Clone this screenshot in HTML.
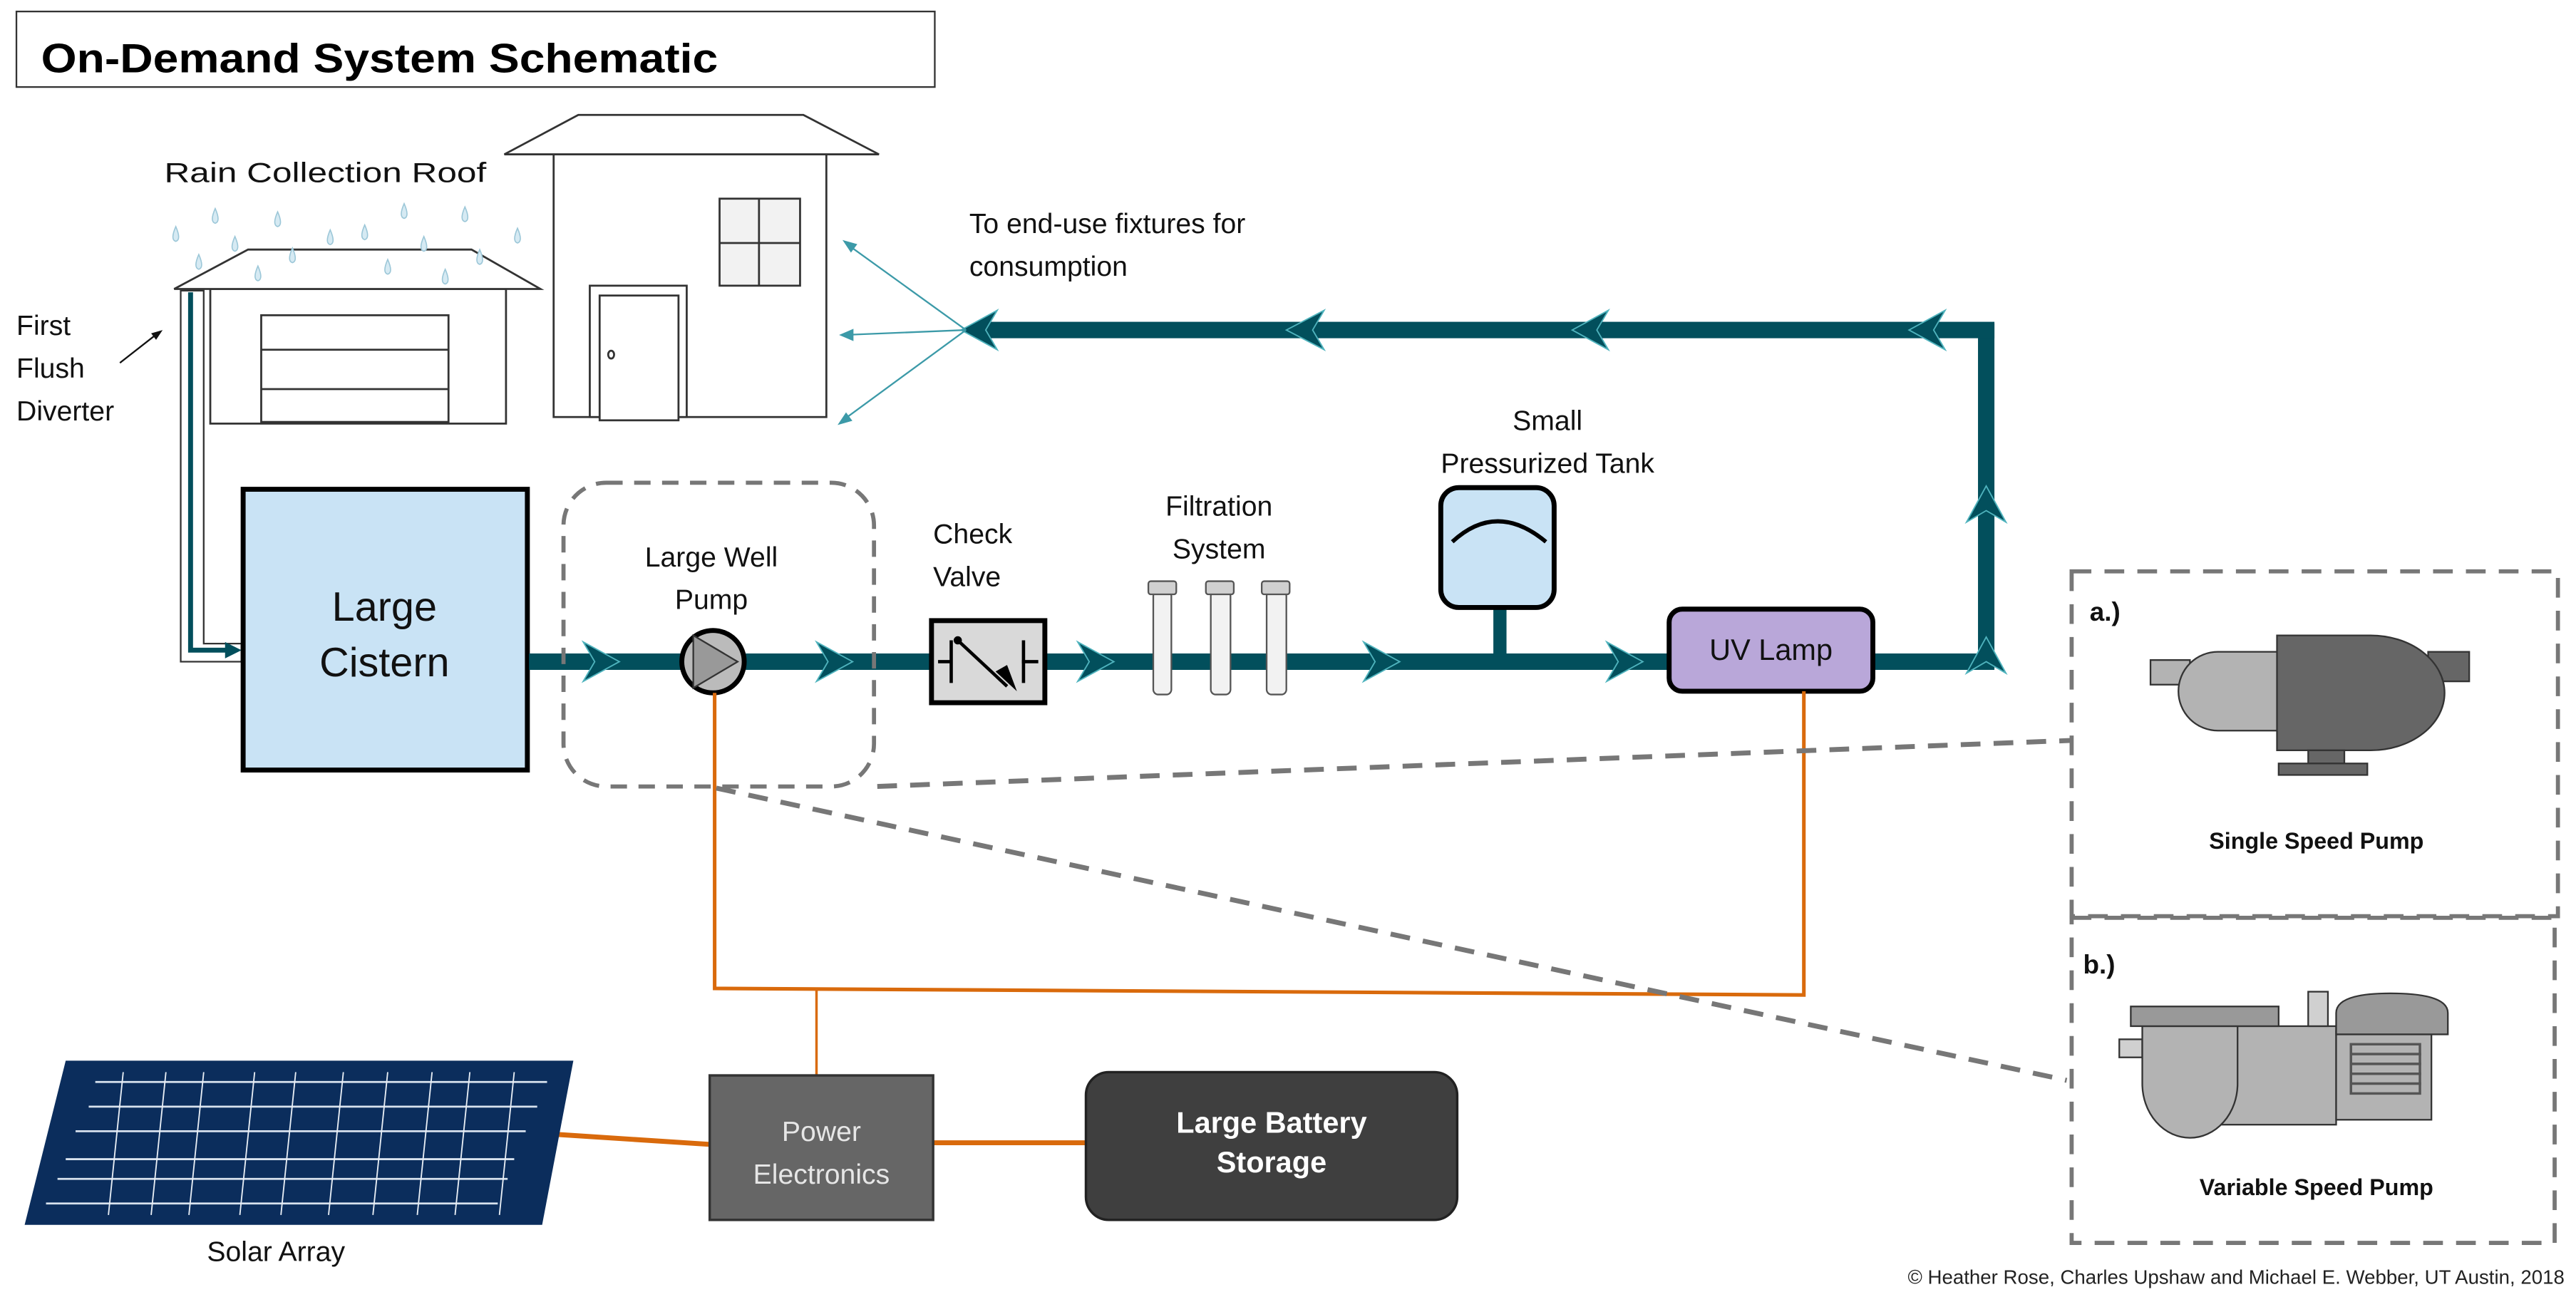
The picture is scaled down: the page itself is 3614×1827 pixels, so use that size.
<!DOCTYPE html>
<html><head><meta charset="utf-8"><style>
html,body{margin:0;padding:0;background:#fff;}
svg{display:block;}
text{font-family:"Liberation Sans",sans-serif;}
</style></head><body>
<svg width="3614" height="1827" viewBox="0 0 1568 793" preserveAspectRatio="none" xmlns="http://www.w3.org/2000/svg">
<rect x="0" y="0" width="1568" height="793" fill="#fff"/>
<rect x="10" y="7" width="559" height="46" fill="#fff" stroke="#333" stroke-width="1"/>
<text x="25" y="44" font-size="25" font-weight="bold" fill="#000" textLength="412" lengthAdjust="spacingAndGlyphs">On-Demand System Schematic</text>

<text x="100" y="111" font-size="17" fill="#111" textLength="196" lengthAdjust="spacingAndGlyphs">Rain Collection Roof</text>
<g fill="#fff" stroke="#333" stroke-width="1.2">
<rect x="128" y="176" width="180" height="82"/>
<polygon points="106,176 151,152 287,152 329,176"/>
<rect x="159" y="192" width="114" height="65"/>
<line x1="159" y1="213" x2="273" y2="213"/><line x1="159" y1="237" x2="273" y2="237"/>
</g>
<g fill="#fff" stroke="#333" stroke-width="1.2">
<rect x="337" y="94" width="166" height="160"/>
<polygon points="307,94 352,70 489,70 535,94"/>
<rect x="438" y="121" width="49" height="53" fill="#f2f2f2"/>
<line x1="462" y1="121" x2="462" y2="174"/><line x1="438" y1="148" x2="487" y2="148"/>
<rect x="359" y="174" width="59" height="80"/>
<rect x="365" y="180" width="48" height="76"/>
<ellipse cx="372" cy="216" rx="1.8" ry="2.4"/>
</g>
<g fill="#d6eaf3" stroke="#9cc7d8" stroke-width="0.7">
<path d="M107 138 q-3.5 8 0 9 q3.5 -1 0 -9z"/><path d="M131 127 q-3.5 8 0 9 q3.5 -1 0 -9z"/><path d="M169 129 q-3.5 8 0 9 q3.5 -1 0 -9z"/>
<path d="M143 144 q-3.5 8 0 9 q3.5 -1 0 -9z"/><path d="M121 155 q-3.5 8 0 9 q3.5 -1 0 -9z"/><path d="M178 151 q-3.5 8 0 9 q3.5 -1 0 -9z"/>
<path d="M157 162 q-3.5 8 0 9 q3.5 -1 0 -9z"/><path d="M201 140 q-3.5 8 0 9 q3.5 -1 0 -9z"/><path d="M222 137 q-3.5 8 0 9 q3.5 -1 0 -9z"/>
<path d="M246 124 q-3.5 8 0 9 q3.5 -1 0 -9z"/><path d="M283 126 q-3.5 8 0 9 q3.5 -1 0 -9z"/><path d="M258 144 q-3.5 8 0 9 q3.5 -1 0 -9z"/>
<path d="M236 158 q-3.5 8 0 9 q3.5 -1 0 -9z"/><path d="M271 164 q-3.5 8 0 9 q3.5 -1 0 -9z"/><path d="M292 152 q-3.5 8 0 9 q3.5 -1 0 -9z"/>
<path d="M315 139 q-3.5 8 0 9 q3.5 -1 0 -9z"/>
</g>
<text x="10" y="204" font-size="17" fill="#111">First</text>
<text x="10" y="230" font-size="17" fill="#111">Flush</text>
<text x="10" y="256" font-size="17" fill="#111">Diverter</text>
<line x1="73" y1="221" x2="96" y2="203" stroke="#111" stroke-width="1"/>
<polygon points="99,201 92,203 95,207" fill="#111"/>
<path d="M110 177 H124 V392 H147 V403 H110 Z" fill="#fff" stroke="#333" stroke-width="1"/>
<path d="M116 178 V396 H138" fill="none" stroke="#024f5c" stroke-width="3"/>
<polygon points="137,391 147,396 137,401" fill="#024f5c"/>

<rect x="148" y="298" width="173" height="171" fill="#c9e3f5" stroke="#000" stroke-width="3"/>
<text x="234" y="378" font-size="25" text-anchor="middle" fill="#111">Large</text>
<text x="234" y="412" font-size="25" text-anchor="middle" fill="#111">Cistern</text>

<g fill="#024f5c">
<rect x="322" y="398" width="891" height="10"/>
<rect x="1204" y="197" width="10" height="211"/>
<rect x="595" y="196" width="619" height="10"/>
<rect x="909" y="370" width="8" height="30"/>
</g>
<g fill="#024f5c" stroke="#4fb3bd" stroke-width="0.8">
<polygon points="355,391 377,403 355,415 362,403"/>
<polygon points="497,391 519,403 497,415 504,403"/>
<polygon points="656,391 678,403 656,415 663,403"/>
<polygon points="830,391 852,403 830,415 837,403"/>
<polygon points="978,391 1000,403 978,415 985,403"/>
<polygon points="607,189 585,201 607,213 600,201"/>
<polygon points="806,189 783,201 806,213 799,201"/>
<polygon points="979,189 957,201 979,213 972,201"/>
<polygon points="1184,189 1162,201 1184,213 1177,201"/>
<polygon points="1197,318 1209,296 1221,318 1209,311"/>
<polygon points="1197,410 1209,388 1221,410 1209,403"/>
</g>
<g stroke="#3c9aa8" stroke-width="1" fill="#3c9aa8">
<line x1="588" y1="201" x2="516" y2="149"/><line x1="588" y1="201" x2="514" y2="204"/><line x1="588" y1="201" x2="513" y2="256"/>
<polygon points="514,147 521,149 518,153"/><polygon points="512,204 519,201 519,207"/><polygon points="511,258 515,252 518,256"/>
</g>
<text x="590" y="142" font-size="17" fill="#111">To end-use fixtures for</text>
<text x="590" y="168" font-size="17" fill="#111">consumption</text>

<rect x="343" y="294" width="189" height="185" rx="26" fill="none" stroke="#777" stroke-width="2.5" stroke-dasharray="10,7"/>
<text x="433" y="345" font-size="17" text-anchor="middle" fill="#111">Large Well</text>
<text x="433" y="371" font-size="17" text-anchor="middle" fill="#111">Pump</text>
<circle cx="434" cy="403" r="19" fill="#bbb" stroke="#000" stroke-width="3"/>
<polygon points="422,387 449,403 422,419" fill="#999" stroke="#333" stroke-width="1"/>

<text x="568" y="331" font-size="17" fill="#111">Check</text>
<text x="568" y="357" font-size="17" fill="#111">Valve</text>
<rect x="567" y="378" width="69" height="50" fill="#d9d9d9" stroke="#000" stroke-width="3"/>
<g stroke="#000" stroke-width="2" fill="none">
<line x1="571" y1="403" x2="579" y2="403"/><line x1="579" y1="390" x2="579" y2="416"/>
<line x1="622" y1="403" x2="632" y2="403"/><line x1="623" y1="390" x2="623" y2="416"/>
<line x1="583" y1="390" x2="613" y2="418"/>
</g>
<circle cx="583" cy="390" r="2.5" fill="#000"/>
<polygon points="606,409 619,421 613,405" fill="#000"/>

<text x="742" y="314" font-size="17" text-anchor="middle" fill="#111">Filtration</text>
<text x="742" y="340" font-size="17" text-anchor="middle" fill="#111">System</text>
<g fill="#f2f2f2" stroke="#555" stroke-width="1">
<rect x="702" y="360" width="11" height="63" rx="3"/><rect x="737" y="360" width="12" height="63" rx="3"/><rect x="771" y="360" width="12" height="63" rx="3"/>
<rect x="699" y="354" width="17" height="8" rx="1.5" fill="#d0d0d0"/><rect x="734" y="354" width="17" height="8" rx="1.5" fill="#d0d0d0"/><rect x="768" y="354" width="17" height="8" rx="1.5" fill="#d0d0d0"/>
</g>

<text x="942" y="262" font-size="17" text-anchor="middle" fill="#111">Small</text>
<text x="942" y="288" font-size="17" text-anchor="middle" fill="#111">Pressurized Tank</text>
<rect x="877" y="297" width="69" height="73" rx="11" fill="#c9e3f5" stroke="#000" stroke-width="3"/>
<path d="M884 330 Q911 305 941 330" fill="none" stroke="#000" stroke-width="2.5"/>

<rect x="1016" y="371" width="124" height="50" rx="8" fill="#b9a7d9" stroke="#000" stroke-width="3"/>
<text x="1078" y="402" font-size="18" text-anchor="middle" fill="#111">UV Lamp</text>

<g stroke="#d96a0c" fill="none">
<polyline points="435,422 435,602 1098,606 1098,421" stroke-width="2.2"/>
<line x1="497" y1="603" x2="497" y2="655" stroke-width="1.5"/>
<line x1="340" y1="691" x2="432" y2="697" stroke-width="3"/>
<line x1="568" y1="696" x2="661" y2="696" stroke-width="3"/>
</g>

<g stroke="#777" stroke-width="3" stroke-dasharray="12,8" fill="none">
<line x1="534" y1="479" x2="1260" y2="451"/>
<line x1="436" y1="480" x2="1258" y2="658"/>
</g>

<rect x="432" y="655" width="136" height="88" fill="#666" stroke="#333" stroke-width="1.5"/>
<text x="500" y="695" font-size="17" text-anchor="middle" fill="#e6e6e6">Power</text>
<text x="500" y="721" font-size="17" text-anchor="middle" fill="#e6e6e6">Electronics</text>
<rect x="661" y="653" width="226" height="90" rx="14" fill="#3f3f3f" stroke="#222" stroke-width="1.5"/>
<text x="774" y="690" font-size="18" font-weight="bold" text-anchor="middle" fill="#fff">Large Battery</text>
<text x="774" y="714" font-size="18" font-weight="bold" text-anchor="middle" fill="#fff">Storage</text>

<polygon points="40,646 349,646 330,746 15,746" fill="#0b2d5c"/>
<g stroke="#d8e2ee" stroke-width="1.2">
<line x1="58" y1="659" x2="333" y2="659"/><line x1="54" y1="674" x2="327" y2="674"/>
<line x1="46" y1="689" x2="320" y2="689"/><line x1="40" y1="706" x2="313" y2="706"/>
<line x1="35" y1="718" x2="309" y2="718"/><line x1="28" y1="733" x2="303" y2="733"/>
</g>
<g stroke="#e8eef5" stroke-width="0.8">
<line x1="75" y1="653" x2="66" y2="740"/><line x1="101" y1="653" x2="92" y2="740"/><line x1="124" y1="653" x2="115" y2="740"/>
<line x1="155" y1="653" x2="146" y2="740"/><line x1="180" y1="653" x2="171" y2="740"/><line x1="209" y1="653" x2="200" y2="740"/>
<line x1="236" y1="653" x2="227" y2="740"/><line x1="263" y1="653" x2="254" y2="740"/><line x1="286" y1="653" x2="277" y2="740"/>
<line x1="313" y1="653" x2="304" y2="740"/>
</g>
<text x="168" y="768" font-size="17" text-anchor="middle" fill="#111">Solar Array</text>

<g fill="none" stroke="#777" stroke-width="2.5" stroke-dasharray="12,8">
<rect x="1261" y="348" width="296" height="210"/>
<rect x="1261" y="559" width="294" height="198"/>
</g>
<text x="1272" y="378" font-size="16" font-weight="bold" fill="#111">a.)</text>
<text x="1268" y="593" font-size="16" font-weight="bold" fill="#111">b.)</text>
<g stroke="#333" stroke-width="1">
<rect x="1309" y="402" width="24" height="15" fill="#b3b3b3"/>
<path d="M1388 397 H1350 A24 24 0 0 0 1350 445 H1388 Z" fill="#b3b3b3"/>
<rect x="1478" y="397" width="25" height="18" fill="#666"/>
<path d="M1386 387 H1443 A45 35 0 0 1 1443 457 H1386 Z" fill="#666"/>
<rect x="1405" y="457" width="22" height="8" fill="#666"/>
<rect x="1387" y="465" width="54" height="7" fill="#666"/>
</g>
<text x="1410" y="517" font-size="14" font-weight="bold" text-anchor="middle" fill="#111">Single Speed Pump</text>
<g stroke="#333" stroke-width="1">
<rect x="1290" y="633" width="14" height="11" fill="#d0d0d0"/>
<rect x="1350" y="625" width="72" height="60" fill="#b3b3b3"/>
<path d="M1304 625 H1362 V660 A29 33 0 0 1 1304 660 Z" fill="#b3b3b3"/>
<rect x="1297" y="613" width="90" height="12" fill="#999"/>
<rect x="1405" y="604" width="12" height="21" fill="#d0d0d0"/>
<rect x="1422" y="628" width="58" height="54" fill="#b3b3b3"/>
<path d="M1422 630 V617 Q1422 605 1455 605 Q1490 605 1490 617 V630 Z" fill="#999"/>
<g fill="#b3b3b3" stroke="#555" stroke-width="1.5">
<rect x="1431" y="636" width="42" height="6"/><rect x="1431" y="642" width="42" height="6"/><rect x="1431" y="648" width="42" height="6"/><rect x="1431" y="654" width="42" height="6"/><rect x="1431" y="660" width="42" height="6"/>
</g>
</g>
<text x="1410" y="728" font-size="14" font-weight="bold" text-anchor="middle" fill="#111">Variable Speed Pump</text>

<text x="1561" y="782" font-size="12" text-anchor="end" fill="#222" font-family="Liberation Serif, serif">© Heather Rose, Charles Upshaw and Michael E. Webber, UT Austin, 2018</text>
</svg>
</body></html>
